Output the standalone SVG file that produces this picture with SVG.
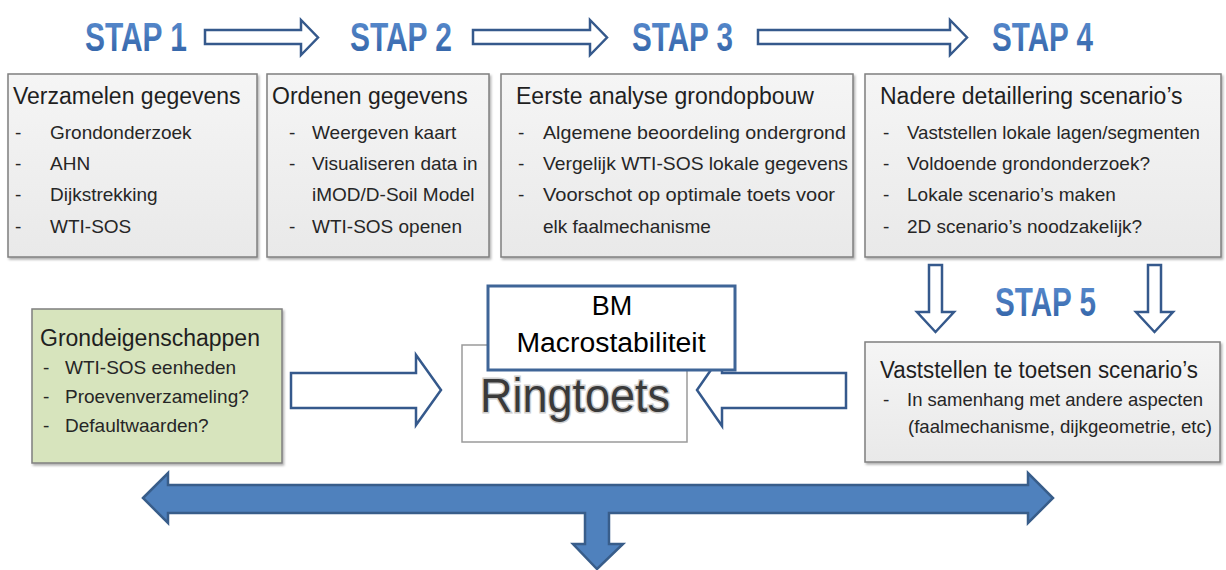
<svg xmlns="http://www.w3.org/2000/svg" width="1226" height="570" viewBox="0 0 1226 570">
<defs>
<style>
.box{fill:url(#gray);stroke:#7f7f7f;stroke-width:1.5;filter:url(#sh)}
.green{fill:#d7e4bd;stroke:#7f7f7f;stroke-width:1.5;filter:url(#sh)}
.h{font-family:"Liberation Sans",Arial,sans-serif;font-size:23px;fill:#1f1f1f}
.b{font-family:"Liberation Sans",Arial,sans-serif;font-size:19px;fill:#262626}
.stap{font-family:"Liberation Sans",Arial,sans-serif;font-weight:bold;font-size:40px;fill:url(#blue)}
.hollow{fill:#ffffff;stroke:#35598c;stroke-width:2.5;stroke-linejoin:miter}
</style>
<linearGradient id="gray" x1="0" y1="0" x2="0" y2="1">
<stop offset="0" stop-color="#f5f5f5"/>
<stop offset="1" stop-color="#e9e9e9"/>
</linearGradient>
<linearGradient id="blue" x1="0" y1="0" x2="0" y2="1">
<stop offset="0" stop-color="#5c8fd2"/>
<stop offset="1" stop-color="#2f5fa3"/>
</linearGradient>
<filter id="sh" x="-5%" y="-5%" width="110%" height="115%">
<feDropShadow dx="1.5" dy="2" stdDeviation="1.2" flood-color="#000" flood-opacity="0.3"/>
</filter>
</defs>
<rect width="1226" height="570" fill="#ffffff"/>

<g id="connectors">
<path class="hollow" d="M205,30 L301,30 L301,20 L318,37.5 L301,55 L301,44 L205,44 Z"/>
<path class="hollow" d="M473,30 L590,30 L590,20 L607,37.5 L590,55 L590,44 L473,44 Z"/>
<path class="hollow" d="M758,30 L950,30 L950,20 L967,37.5 L950,55 L950,44 L758,44 Z"/>
<path class="hollow" d="M929,265 L942,265 L942,312 L954,312 L935.5,332 L917,312 L929,312 Z"/>
<path class="hollow" d="M1148,265 L1161,265 L1161,312 L1173,312 L1154.5,332 L1136,312 L1148,312 Z"/>
<path class="hollow" d="M291,373 L416,373 L416,355 L441,390 L416,425 L416,408 L291,408 Z"/>
<path class="hollow" d="M846,373 L722,373 L722,354 L697,390 L722,426 L722,408 L846,408 Z"/>
<path d="M143,498 L168,473 L168,485 L1028,485 L1028,473 L1053,498 L1028,523 L1028,513 L609,513 L609,544 L623,544 L597,569 L573,544 L585,544 L585,513 L168,513 L168,523 Z" fill="#4f81bd" stroke="#385d8a" stroke-width="2.5" stroke-linejoin="miter"/>
</g>

<g id="stap1"><text class="stap" x="85" y="51" textLength="102" lengthAdjust="spacingAndGlyphs">STAP 1</text></g>
<g id="stap2"><text class="stap" x="350" y="51" textLength="102" lengthAdjust="spacingAndGlyphs">STAP 2</text></g>
<g id="stap3"><text class="stap" x="632" y="51" textLength="101" lengthAdjust="spacingAndGlyphs">STAP 3</text></g>
<g id="stap4"><text class="stap" x="992" y="51" textLength="101" lengthAdjust="spacingAndGlyphs">STAP 4</text></g>
<g id="stap5"><text class="stap" x="995" y="316" textLength="101" lengthAdjust="spacingAndGlyphs">STAP 5</text></g>

<g id="verzamelen">
<rect class="box" x="8" y="74" width="249" height="183"/>
<text class="h" x="13" y="104">Verzamelen gegevens</text>
<text class="b" y="139"><tspan x="15">-</tspan><tspan x="50">Grondonderzoek</tspan></text>
<text class="b" y="170"><tspan x="15">-</tspan><tspan x="50">AHN</tspan></text>
<text class="b" y="201"><tspan x="15">-</tspan><tspan x="50">Dijkstrekking</tspan></text>
<text class="b" y="233"><tspan x="15">-</tspan><tspan x="50">WTI-SOS</tspan></text>
</g>

<g id="ordenen">
<rect class="box" x="267" y="74" width="222" height="183"/>
<text class="h" x="272" y="104">Ordenen gegevens</text>
<text class="b" y="139"><tspan x="289">-</tspan><tspan x="312">Weergeven kaart</tspan></text>
<text class="b" y="170"><tspan x="289">-</tspan><tspan x="312">Visualiseren data in</tspan></text>
<text class="b" x="312" y="201">iMOD/D-Soil Model</text>
<text class="b" y="233"><tspan x="289">-</tspan><tspan x="312">WTI-SOS openen</tspan></text>
</g>

<g id="eerste">
<rect class="box" x="501" y="74" width="352" height="183"/>
<text class="h" x="516" y="104">Eerste analyse grondopbouw</text>
<text class="b" y="139"><tspan x="518">-</tspan><tspan x="543" textLength="303" lengthAdjust="spacingAndGlyphs">Algemene beoordeling ondergrond</tspan></text>
<text class="b" y="170"><tspan x="518">-</tspan><tspan x="543" textLength="305" lengthAdjust="spacingAndGlyphs">Vergelijk WTI-SOS lokale gegevens</tspan></text>
<text class="b" y="201"><tspan x="518">-</tspan><tspan x="543" textLength="292" lengthAdjust="spacingAndGlyphs">Voorschot op optimale toets voor</tspan></text>
<text class="b" x="543" y="233">elk faalmechanisme</text>
</g>

<g id="nadere">
<rect class="box" x="865" y="74" width="356" height="183"/>
<text class="h" x="880" y="104">Nadere detaillering scenario’s</text>
<text class="b" y="139"><tspan x="883">-</tspan><tspan x="907" textLength="293" lengthAdjust="spacingAndGlyphs">Vaststellen lokale lagen/segmenten</tspan></text>
<text class="b" y="170"><tspan x="883">-</tspan><tspan x="907">Voldoende grondonderzoek?</tspan></text>
<text class="b" y="201"><tspan x="883">-</tspan><tspan x="907">Lokale scenario’s maken</tspan></text>
<text class="b" y="233"><tspan x="883">-</tspan><tspan x="907">2D scenario’s noodzakelijk?</tspan></text>
</g>

<g id="vaststellen">
<rect class="box" x="865" y="342" width="355" height="120"/>
<text class="h" x="880" y="378" textLength="318" lengthAdjust="spacingAndGlyphs">Vaststellen te toetsen scenario’s</text>
<text class="b" y="406"><tspan x="883">-</tspan><tspan x="907" textLength="296" lengthAdjust="spacingAndGlyphs">In samenhang met andere aspecten</tspan></text>
<text class="b" x="908" y="433" textLength="304" lengthAdjust="spacingAndGlyphs">(faalmechanisme, dijkgeometrie, etc)</text>
</g>

<g id="grondeigenschappen">
<rect class="green" x="32" y="309" width="250" height="154"/>
<text class="h" x="40" y="346">Grondeigenschappen</text>
<text class="b" y="374"><tspan x="43">-</tspan><tspan x="65">WTI-SOS eenheden</tspan></text>
<text class="b" y="403"><tspan x="43">-</tspan><tspan x="65">Proevenverzameling?</tspan></text>
<text class="b" y="432"><tspan x="43">-</tspan><tspan x="65">Defaultwaarden?</tspan></text>
</g>

<g id="ringtoets">
<rect x="462" y="345" width="225" height="97" fill="#ffffff" stroke="#9a9a9a" stroke-width="1.5"/>
<text x="480" y="412" textLength="190" lengthAdjust="spacingAndGlyphs" font-family="Liberation Sans, Arial, sans-serif" font-size="49" fill="#3a3a3a" stroke="#cfcfcf" stroke-width="3" paint-order="stroke">Ringtoets</text>
</g>

<g id="bm-macrostabiliteit">
<rect x="488" y="286" width="247" height="84" fill="#ffffff" stroke="#3f6597" stroke-width="3"/>
<text x="612" y="315" text-anchor="middle" font-family="Liberation Sans, Arial, sans-serif" font-size="27" fill="#000000">BM</text>
<text x="611" y="352" text-anchor="middle" textLength="189" lengthAdjust="spacingAndGlyphs" font-family="Liberation Sans, Arial, sans-serif" font-size="27" fill="#000000">Macrostabiliteit</text>
</g>
</svg>
